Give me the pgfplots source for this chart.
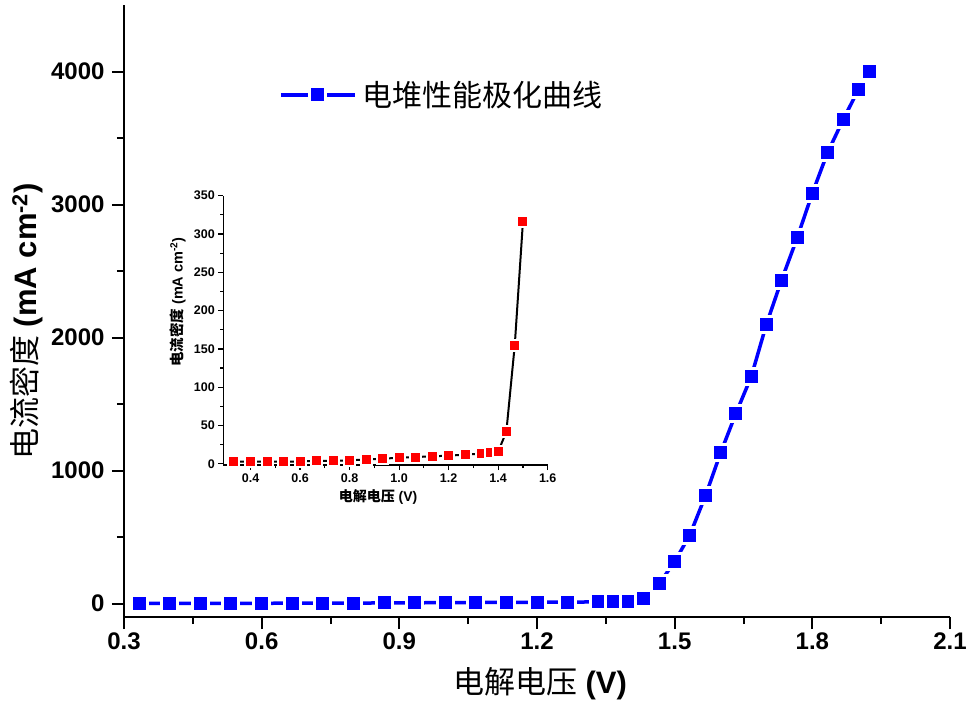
\documentclass[border=0pt]{standalone}
\usepackage{pgfplots}
\pgfplotsset{compat=1.18}
\usepackage{fontspec}
\setmainfont{Liberation Sans}
\newfontfamily\cjk{Noto Sans CJK SC}
\definecolor{myblue}{RGB}{0,0,255}
\definecolor{myred}{RGB}{255,0,0}
\pgfplotstableread{
x y
0.333 3
0.4 3
0.467 3
0.533 3
0.6 3
0.667 4
0.733 4
0.8 4.5
0.867 5.8
0.933 6.7
1.0 8
1.067 8.9
1.133 9.8
1.2 10.7
1.267 12
1.333 13.4
1.367 14.7
1.4 16
1.433 42
1.467 155
1.5 316
1.533 516
1.567 810
1.6 1133
1.633 1426
1.667 1708
1.7 2101
1.733 2433
1.767 2750
1.8 3085
1.833 3389
1.867 3637
1.9 3862
1.925 4000
}\maindata
\pgfplotstableread{
x y
0.333 3
0.4 3
0.467 3
0.533 3
0.6 3
0.667 4
0.733 4
0.8 4.5
0.867 5.8
0.933 6.7
1.0 8
1.067 8.9
1.133 9.8
1.2 10.7
1.267 12
1.333 13.4
1.367 14.7
1.4 16
1.433 42
1.467 155
1.5 316
}\insetdata
\begin{document}
\begin{tikzpicture}[x=1pt,y=1pt]
\path[use as bounding box] (0,0) rectangle (974,705);
\begin{axis}[
  at={(124pt,88pt)}, anchor=south west,
  scale only axis, width=826pt, height=612pt,
  xmin=0.3, xmax=2.1, ymin=-100, ymax=4500,
  clip=false,
  axis x line*=bottom, axis y line*=left,
  axis line style={line width=2pt},
  xtick={0.3,0.6,0.9,1.2,1.5,1.8,2.1},
  ytick={0,1000,2000,3000,4000},
  minor x tick num=1, minor y tick num=1,
  tick align=outside,
  major tick length=12pt, minor tick length=7pt,
  every tick/.style={line width=2pt, black},
  /pgf/number format/assume math mode=true,
  /pgf/number format/1000 sep={},
  /pgf/number format/fixed,
  /pgf/number format/precision=1,
  /pgf/number format/fixed zerofill,
  yticklabel style={/pgf/number format/precision=0, /pgf/number format/fixed zerofill=false},
  ticklabel style={font=\fontsize{24}{24}\selectfont\bfseries},
  yticklabel style={xshift=-4pt},
  xlabel={{\cjk 电解电压} \textbf{(V)}},
  xlabel style={font=\fontsize{31}{31}\selectfont, at={(axis description cs:0.5036,-0.1087)}, anchor=center},
  ylabel={{\cjk 电流密度} \textbf{(mA cm\textsuperscript{-2})}},
  ylabel style={font=\fontsize{31}{31}\selectfont, at={(axis description cs:-0.118,0.483)}, anchor=center},
  legend style={at={(axis description cs:0.1875,0.853)}, anchor=west, draw=none, fill=none,
    inner sep=0pt, font=\fontsize{30}{30}\selectfont\cjk},
  legend image code/.code={\draw[mark repeat=2,mark phase=2,#1] plot coordinates {(0pt,0pt) (37pt,0pt) (74pt,0pt)};},
]
\addplot[myblue, line width=3.5pt, mark=square*, mark size=8pt,
  mark options={fill=myblue, draw=white, line width=3pt}] table[x=x,y=y] {\maindata};
\addlegendentry{\hspace{4pt}电堆性能极化曲线}
\end{axis}
\begin{axis}[
  at={(223.3pt,240pt)}, anchor=south west,
  scale only axis, width=324.4pt, height=269.3pt,
  xmin=0.29, xmax=1.6, ymin=-1.5, ymax=350,
  clip=false,
  axis x line*=bottom, axis y line*=left,
  axis line style={line width=1.3pt},
  xtick={0.4,0.6,0.8,1.0,1.2,1.4,1.6},
  ytick={0,50,100,150,200,250,300,350},
  minor x tick num=1, minor y tick num=1,
  tick align=outside,
  major tick length=5pt, minor tick length=3pt,
  every tick/.style={line width=1.2pt, black},
  /pgf/number format/assume math mode=true,
  /pgf/number format/fixed,
  /pgf/number format/precision=1,
  /pgf/number format/fixed zerofill,
  yticklabel style={/pgf/number format/precision=0, /pgf/number format/fixed zerofill=false},
  ticklabel style={font=\fontsize{12.5}{12.5}\selectfont\bfseries},
  xlabel={{\cjk\bfseries 电解电压} \textbf{(V)}},
  xlabel style={font=\fontsize{14}{14}\selectfont, at={(axis description cs:0.477,-0.119)}, anchor=center},
  ylabel={{\cjk\bfseries 电流密度} \textbf{(mA cm\textsuperscript{-2})}},
  ylabel style={font=\fontsize{14.5}{14.5}\selectfont, at={(axis description cs:-0.140,0.605)}, anchor=center},
]
\addplot[black, line width=2pt, mark=square*, mark size=5.5pt,
  mark options={fill=myred, draw=white, line width=2pt}] table[x=x,y=y] {\insetdata};
\end{axis}
\end{tikzpicture}
\end{document}
